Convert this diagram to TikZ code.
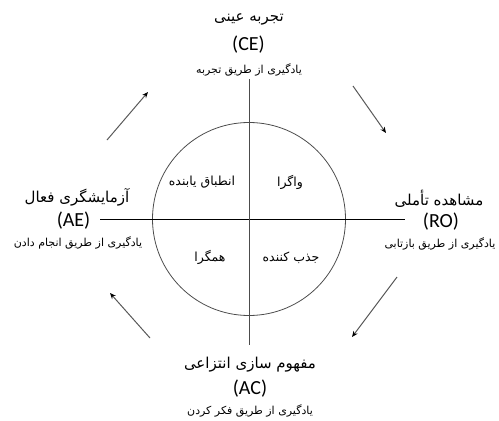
\documentclass[tikz,border=0pt]{standalone}
\usepackage{fontspec}
\setmainfont{Carlito}
\newfontfamily\arabicfont[Script=Arabic]{DejaVu Sans}
\TeXXeTstate=1
\usetikzlibrary{arrows.meta}
\begin{document}
\begin{tikzpicture}[x=1pt,y=-1pt,
  title/.style={inner sep=0pt, font=\arabicfont\fontsize{15}{17}\selectfont},
  code/.style={inner sep=0pt, font=\fontsize{20}{22}\selectfont},
  sub/.style={inner sep=0pt, font=\arabicfont\fontsize{11}{13}\selectfont},
  quad/.style={inner sep=0pt, font=\arabicfont\fontsize{12.5}{14}\selectfont},
  axis/.style={line width=0.9pt},
  flow/.style={draw=black!65, line width=1pt, -{Stealth[length=6pt,width=5pt,black]}}]
\useasboundingbox (0,0) rectangle (499,421);
% circle and axes
\node[circle, draw=black!70, line width=0.8pt, minimum size=193pt, inner sep=0pt] (c) at (249,219) {};
\coordinate (hl) at (100,219);
\coordinate (hr) at (405,219);
\coordinate (vt) at (249,79);
\coordinate (vb) at (249,345);
\draw[axis, black] (hl) -- (hr);
\draw[axis, black!70] (vt) -- (vb);
% quadrant labels
\node[quad] (q1) at (202,182) {\beginR انطباق یابنده\endR};
\node[quad] (q2) at (290,182) {\beginR واگرا\endR};
\node[quad] (q3) at (210,257) {\beginR همگرا\endR};
\node[quad] (q4) at (291,258) {\beginR جذب کننده\endR};
% top
\node[title] (ttop) at (249,19) {\beginR تجربه عینی\endR};
\node[code] (ctop) at (248.5,45) {(CE)};
\node[sub] (stop) at (249,70) {\beginR یادگیری از طریق تجربه\endR};
% left
\node[title] (tleft) at (77,197) {\beginR آزمایشگری فعال\endR};
\node[code] (cleft) at (73.5,221) {(AE)};
\node[sub] (sleft) at (78,243) {\beginR یادگیری از طریق انجام دادن\endR};
% right
\node[title] (tright) at (439,199) {\beginR مشاهده تأملی\endR};
\node[code] (cright) at (441,222) {(RO)};
\node[sub] (sright) at (440,244) {\beginR یادگیری از طریق بازتابی\endR};
% bottom
\node[title] (tbot) at (250,365) {\beginR مفهوم سازی انتزاعی\endR};
\node[code] (cbot) at (250,389) {(AC)};
\node[sub] (sbot) at (250,411) {\beginR یادگیری از طریق فکر کردن\endR};
% arrows
\coordinate (a1s) at (107,140); \coordinate (a1e) at (148,92);
\coordinate (a2s) at (353,86);  \coordinate (a2e) at (386,133);
\coordinate (a3s) at (397,277); \coordinate (a3e) at (352,337);
\coordinate (a4s) at (150,338); \coordinate (a4e) at (110,293);
\draw[flow] (a1s) -- (a1e);
\draw[flow] (a2s) -- (a2e);
\draw[flow] (a3s) -- (a3e);
\draw[flow] (a4s) -- (a4e);
\end{tikzpicture}
\end{document}
